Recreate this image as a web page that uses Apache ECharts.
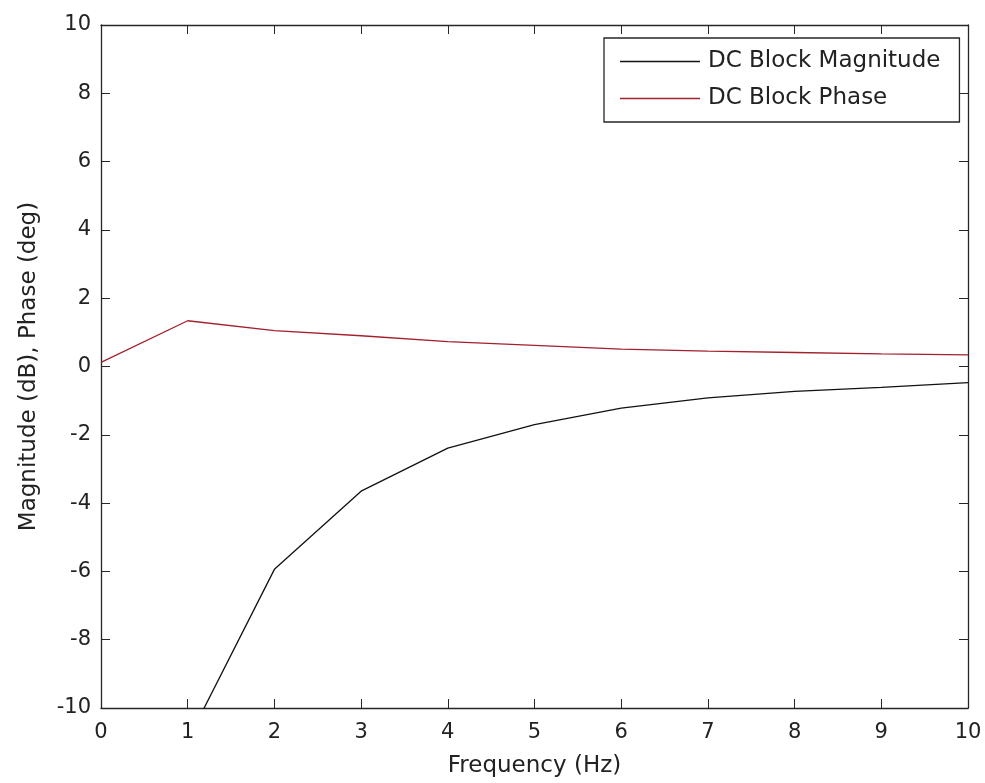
<!DOCTYPE html>
<html>
<head>
<meta charset="utf-8">
<script src="https://cdn.jsdelivr.net/npm/echarts@6/dist/echarts.min.js"></script>
<style>
html,body{margin:0;padding:0;background:#fff;}
#chart{width:985px;height:783px;}
</style>
</head>
<body>
<div id="chart"></div>
<script>
var frequency = [0, 1, 2, 3, 4, 5, 6, 7, 8, 9, 10];
var magnitude = [null, -10.95, -5.94, -3.65, -2.39, -1.70, -1.22, -0.92, -0.73, -0.61, -0.47];
var phase = [0.12, 1.34, 1.05, 0.90, 0.73, 0.62, 0.51, 0.45, 0.41, 0.37, 0.34];
var seriesNames = ['DC Block Magnitude', 'DC Block Phase'];
var xLabel = 'Frequency (Hz)';
var yLabel = 'Magnitude (dB), Phase (deg)';

function pairs(xs, ys) {
  return xs.map(function (x, i) { return [x, ys[i]]; });
}

var FONT = 'DejaVu Sans';
var AX = '#262626';
var chart = echarts.init(document.getElementById('chart'), null, {renderer: 'canvas'});
var tickStyle = {show: true, inside: true, length: 9, lineStyle: {color: AX, width: 1}};
var lineStyle = {show: true, onZero: false, lineStyle: {color: AX, width: 1.3}};
chart.setOption({
  animation: false,
  backgroundColor: '#ffffff',
  grid: {left: 101, right: 17, top: 25, bottom: 74, containLabel: false},
  legend: {
    data: seriesNames,
    orient: 'vertical',
    left: 604,
    top: 38,
    padding: [12, 19, 12, 16],
    itemGap: 14,
    itemWidth: 80,
    itemHeight: 1.5,
    icon: 'rect',
    backgroundColor: '#ffffff',
    borderColor: AX,
    borderWidth: 1.3,
    borderRadius: 0,
    textStyle: {fontFamily: FONT, fontSize: 23, lineHeight: 23, color: '#222', padding: [0, 0, 0, 3]}
  },
  xAxis: [{
    type: 'value', min: 0, max: 10, interval: 1, position: 'bottom',
    name: xLabel, nameLocation: 'middle', nameGap: 47,
    nameTextStyle: {fontFamily: FONT, fontSize: 23, color: '#222'},
    axisLine: lineStyle, axisTick: tickStyle,
    axisLabel: {fontFamily: FONT, fontSize: 21, color: '#222', margin: 14, showMinLabel: true, showMaxLabel: true},
    splitLine: {show: false}
  }, {
    type: 'value', min: 0, max: 10, interval: 1, position: 'top',
    axisLine: lineStyle, axisTick: tickStyle,
    axisLabel: {show: false}, splitLine: {show: false}
  }],
  yAxis: [{
    type: 'value', min: -10, max: 10, interval: 2, position: 'left',
    name: yLabel, nameLocation: 'middle', nameGap: 60, nameRotate: 90,
    nameTextStyle: {fontFamily: FONT, fontSize: 23, color: '#222'},
    axisLine: lineStyle, axisTick: tickStyle,
    axisLabel: {fontFamily: FONT, fontSize: 21, color: '#222', margin: 10, showMinLabel: true, showMaxLabel: true},
    splitLine: {show: false}
  }, {
    type: 'value', min: -10, max: 10, interval: 2, position: 'right',
    axisLine: lineStyle, axisTick: tickStyle,
    axisLabel: {show: false}, splitLine: {show: false}
  }],
  series: [{
    name: seriesNames[0], type: 'line', xAxisIndex: 0, yAxisIndex: 0,
    data: pairs(frequency, magnitude), symbol: 'none', clip: true,
    connectNulls: false,
    lineStyle: {color: '#111111', width: 1.3}, itemStyle: {color: '#111111'}
  }, {
    name: seriesNames[1], type: 'line', xAxisIndex: 0, yAxisIndex: 0,
    data: pairs(frequency, phase), symbol: 'none', clip: true,
    lineStyle: {color: '#a3202e', width: 1.3}, itemStyle: {color: '#a3202e'}
  }]
});
</script>
</body>
</html>
